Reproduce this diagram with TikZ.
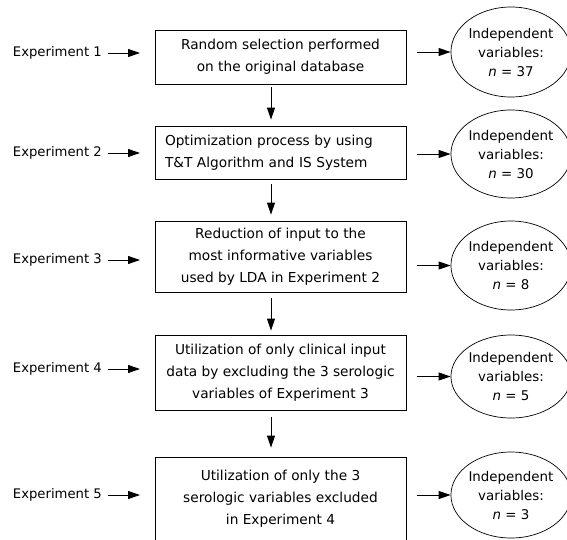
\documentclass[tikz,border=0pt]{standalone}
\usepackage{fontspec}
\setmainfont{DejaVu Sans}
\usetikzlibrary{shapes.geometric,arrows.meta}
\tikzset{
  every node/.style={font=\fontsize{13.2pt}{22pt}\selectfont},
  stagebox/.style={draw, line width=0.9pt, minimum width=251pt, inner sep=0pt, align=center,
    font=\fontsize{13.7pt}{22pt}\selectfont},
  resultoval/.style={draw, ellipse, line width=0.7pt, minimum width=112pt, inner sep=0pt, align=center,
    font=\fontsize{13.4pt}{19pt}\selectfont},
  explabel/.style={anchor=east, inner sep=0pt},
  arr/.style={line width=0.9pt, -{Triangle[length=12pt,width=8pt]}}
}
\begin{document}
\begin{tikzpicture}[x=1pt,y=-1pt]
\useasboundingbox (0,0) rectangle (567,539);
% boxes
\node[stagebox, minimum height=54pt] (b1) at (280.5,57) {Random selection performed\\on the original database};
\node[stagebox, minimum height=53pt, text width=231pt, inner xsep=10pt, align=left] (b2) at (280.5,152.5) {Optimization process by using\\T\&T Algorithm and IS System};
\node[stagebox, minimum height=71pt] (b3) at (280.5,256.5) {Reduction of input to the\\most informative variables\\used by LDA in Experiment 2};
\node[stagebox, minimum height=75pt] (b4) at (280.5,372.5) {Utilization of only clinical input\\data by excluding the 3 serologic\\variables of Experiment 3};
\node[stagebox, minimum height=84pt] (b5) at (280.5,499) {Utilization of only the 3\\serologic variables excluded\\in Experiment 4};
% ovals
\node[resultoval, minimum height=90pt] (e1) at (511,52) {Independent\\variables:\\\textit{n} = 37};
\node[resultoval, minimum height=88pt] (e2) at (511,154) {Independent\\variables:\\\textit{n} = 30};
\node[resultoval, minimum height=89pt] (e3) at (511,265.5) {Independent\\variables:\\\textit{n} = 8};
\node[resultoval, minimum height=83pt] (e4) at (511,376.5) {Independent\\variables:\\\textit{n} = 5};
\node[resultoval, minimum height=86pt] (e5) at (511,495) {Independent\\variables:\\\textit{n} = 3};
% left labels
\node[explabel] (l1) at (102,53) {Experiment 1};
\node[explabel] (l2) at (102,153) {Experiment 2};
\node[explabel] (l3) at (102,260) {Experiment 3};
\node[explabel] (l4) at (102,369) {Experiment 4};
\node[explabel] (l5) at (102,495) {Experiment 5};
\foreach \i in {1,...,5}{
  \draw[arr] ([xshift=6pt]l\i.east) -- ([xshift=38pt]l\i.east);
  \draw[arr] ([xshift=-34pt]e\i.west) -- (e\i.west);
}
% vertical arrows
\draw[arr] ([xshift=-9.5pt,yshift=-3pt]b1.south) -- ([xshift=-9.5pt,yshift=6pt]b2.north);
\draw[arr] ([xshift=-9.5pt,yshift=-5pt]b2.south) -- ([xshift=-9.5pt,yshift=6pt]b3.north);
\draw[arr] ([xshift=-9.5pt,yshift=-6pt]b3.south) -- ([xshift=-9.5pt,yshift=4pt]b4.north);
\draw[arr] ([xshift=-9.5pt,yshift=-7pt]b4.south) -- ([xshift=-9.5pt,yshift=9pt]b5.north);
\end{tikzpicture}
\end{document}
